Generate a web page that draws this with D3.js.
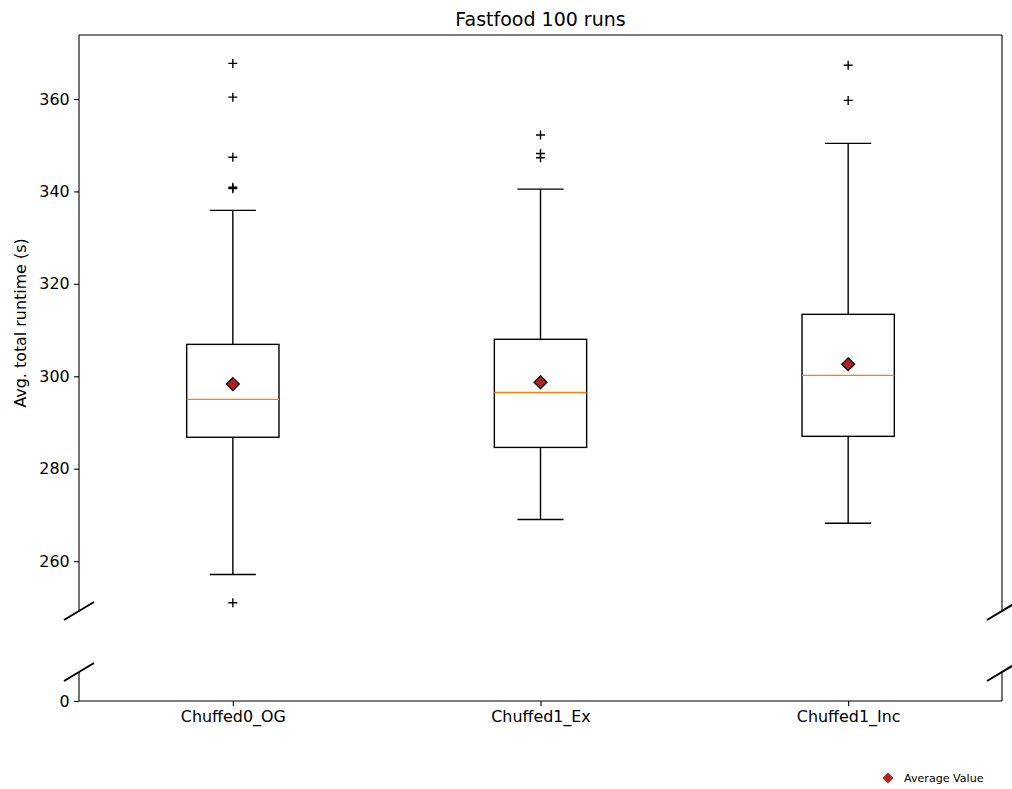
<!DOCTYPE html>
<html>
<head>
<meta charset="utf-8">
<title>Fastfood 100 runs</title>
<script src="https://d3js.org/d3.v7.min.js"></script>
<style>
  body { margin: 0; background: #fff; }
  text { font-family: "DejaVu Sans", sans-serif; fill: #000; }
</style>
</head>
<body>
<script>
// box statistics
var categories = ["Chuffed0_OG", "Chuffed1_Ex", "Chuffed1_Inc"];
var q1 = [286.8, 284.6, 287.0];
var medians = [295.0, 296.5, 300.2];
var q3 = [306.9, 308.0, 313.4];
var whiskerLow = [257.1, 269.0, 268.2];
var whiskerHigh = [335.9, 340.5, 350.4];
var means = [298.3, 298.7, 302.6];
var outliers = [
  [367.7, 360.4, 347.4, 340.9, 340.6, 251.0],
  [352.2, 348.2, 347.3],
  [367.3, 359.7]
];
var topTicks = [260, 280, 300, 320, 340, 360];
var bottomTicks = [0];

var W = 1012, H = 789;
var left = 79, right = 1002;
var topY0 = 35, topY1 = 611;     // upper panel
var botY0 = 672, botY1 = 701;    // lower panel

var svg = d3.select("body").append("svg")
  .attr("width", W).attr("height", H);

var x = d3.scalePoint().domain(categories).range([left, right]).padding(0.5);
var boxW = x.step() * 0.3;

var yTop = d3.scaleLinear().domain([249.2, 373.85]).range([topY1, topY0]);
var yBot = d3.scaleLinear().domain([0, 10]).range([botY1, botY0]);

// clip for upper panel
svg.append("clipPath").attr("id", "clipTop")
  .append("rect").attr("x", left).attr("y", topY0)
  .attr("width", right - left).attr("height", topY1 - topY0);

var plot = svg.append("g").attr("clip-path", "url(#clipTop)");

var boxes = plot.selectAll(".box")
  .data(categories)
  .enter().append("g")
  .attr("class", "box");

boxes.each(function(c, i) {
  var g = d3.select(this);
  var cx = x(c);
  // whiskers
  g.append("line").attr("x1", cx).attr("x2", cx)
    .attr("y1", yTop(q3[i])).attr("y2", yTop(whiskerHigh[i]))
    .attr("stroke", "#000").attr("stroke-width", 1.4);
  g.append("line").attr("x1", cx).attr("x2", cx)
    .attr("y1", yTop(q1[i])).attr("y2", yTop(whiskerLow[i]))
    .attr("stroke", "#000").attr("stroke-width", 1.4);
  // caps
  [whiskerHigh[i], whiskerLow[i]].forEach(function(v) {
    g.append("line").attr("x1", cx - boxW / 4).attr("x2", cx + boxW / 4)
      .attr("y1", yTop(v)).attr("y2", yTop(v))
      .attr("stroke", "#000").attr("stroke-width", 1.4);
  });
  // box
  g.append("rect")
    .attr("x", cx - boxW / 2).attr("width", boxW)
    .attr("y", yTop(q3[i])).attr("height", yTop(q1[i]) - yTop(q3[i]))
    .attr("fill", "none").attr("stroke", "#000").attr("stroke-width", 1.4);
  // median
  g.append("line").attr("x1", cx - boxW / 2).attr("x2", cx + boxW / 2)
    .attr("y1", yTop(medians[i])).attr("y2", yTop(medians[i]))
    .attr("stroke", "#ff7f0e").attr("stroke-width", 1.4);
  // fliers
  outliers[i].forEach(function(v) {
    var yy = yTop(v);
    g.append("path")
      .attr("d", "M" + (cx - 4.5) + "," + yy + "H" + (cx + 4.5) +
                 "M" + cx + "," + (yy - 4.5) + "V" + (yy + 4.5))
      .attr("stroke", "#000").attr("stroke-width", 1.4);
  });
  // mean
  var my = yTop(means[i]);
  g.append("path")
    .attr("d", "M" + cx + "," + (my - 6.5) + "L" + (cx + 6.5) + "," + my +
               "L" + cx + "," + (my + 6.5) + "L" + (cx - 6.5) + "," + my + "Z")
    .attr("fill", "#b22222").attr("stroke", "#000").attr("stroke-width", 1.2);
});

// spines
function line(x1, y1, x2, y2, w) {
  svg.append("line").attr("x1", x1).attr("y1", y1).attr("x2", x2).attr("y2", y2)
    .attr("stroke", "#000").attr("stroke-width", w || 1.1);
}
line(left, topY0, right, topY0);
line(left, topY0, left, topY1);
line(right, topY0, right, topY1);
line(left, botY0, left, botY1);
line(right, botY0, right, botY1);
line(left, botY1, right, botY1);

// break marks
[[left, topY1], [right, topY1], [left, botY0], [right, botY0]].forEach(function(p) {
  line(p[0] - 15, p[1] + 9, p[0] + 15, p[1] - 9, 2);
});

// axes
var ayTop = svg.append("g").attr("transform", "translate(" + left + ",0)")
  .call(d3.axisLeft(yTop).tickValues(topTicks).tickSize(4.9).tickPadding(4.5));
var ayBot = svg.append("g").attr("transform", "translate(" + left + ",0)")
  .call(d3.axisLeft(yBot).tickValues(bottomTicks).tickSize(4.9).tickPadding(4.5));
var ax = svg.append("g").attr("transform", "translate(0," + botY1 + ")")
  .call(d3.axisBottom(x).tickSize(4.9).tickPadding(4.5));

[ayTop, ayBot, ax].forEach(function(a) {
  a.select(".domain").remove();
  a.selectAll(".tick line").attr("stroke", "#000").attr("stroke-width", 1.1);
  a.selectAll(".tick text")
    .attr("font-family", "DejaVu Sans, sans-serif")
    .attr("font-size", 15.9).attr("fill", "#000");
});

// title
svg.append("text").attr("x", (left + right) / 2).attr("y", 26)
  .attr("text-anchor", "middle").attr("font-size", 19)
  .text("Fastfood 100 runs");

// y label
svg.append("text")
  .attr("transform", "translate(25.5," + (topY0 + topY1) / 2 + ") rotate(-90)")
  .attr("text-anchor", "middle").attr("font-size", 15.9)
  .text("Avg. total runtime (s)");

// legend
var lg = svg.append("g").attr("transform", "translate(888,778)");
lg.append("path").attr("d", "M0,-5.5L5.5,0L0,5.5L-5.5,0Z").attr("fill", "#b22222");
lg.append("text").attr("x", 16).attr("y", 4).attr("font-size", 11.1)
  .text("Average Value");
</script>
</body>
</html>
